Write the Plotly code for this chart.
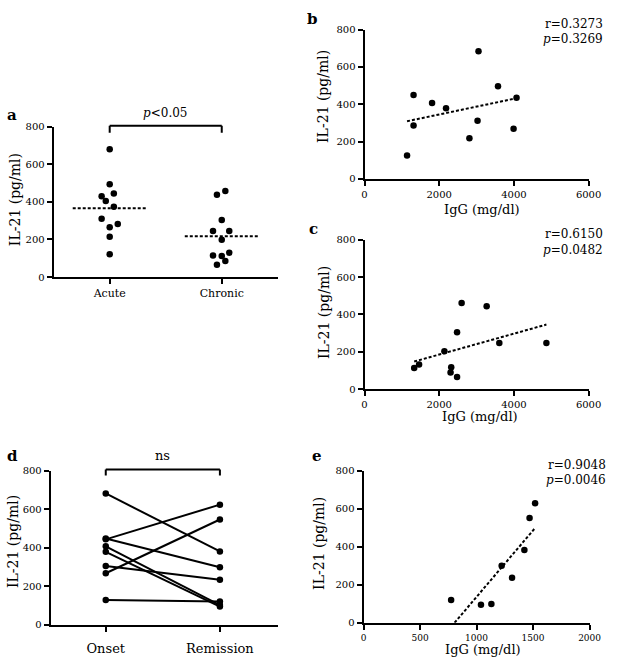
import numpy as np
import plotly.graph_objects as go

W, H = 625, 670
FONT = "DejaVu Serif"

# ---- data ----
groups_a = ["Acute", "Chronic"]
acute_il21 = [681, 494, 445, 430, 405, 375, 311, 283, 265, 215, 122]
chronic_il21 = [458, 438, 304, 245, 245, 199, 129, 115, 112, 86, 65]

igg_acute = [1139, 1313, 1313, 1809, 2183, 2809, 3026, 3052, 3574, 3991, 4070]
il21_acute_b = [125, 286, 449, 407, 379, 218, 312, 684, 496, 268, 435]

igg_chronic = [1330, 1461, 2139, 2304, 2322, 2478, 2478, 2600, 3270, 3609, 4870]
il21_chronic_c = [113, 132, 202, 88, 116, 65, 304, 461, 443, 246, 246]

groups_d = ["Onset", "Remission"]
onset_il21 = [681, 443, 447, 267, 407, 378, 305, 128]
remission_il21 = [380, 623, 298, 546, 102, 94, 233, 121]

igg_remission = [775, 1039, 1131, 1222, 1314, 1423, 1469, 1518]
il21_remission_e = [120, 95, 98, 299, 236, 382, 551, 628]

stats_b = ["r=0.3273", "<i>p</i>=0.3269"]
stats_c = ["r=0.6150", "<i>p</i>=0.0482"]
stats_e = ["r=0.9048", "<i>p</i>=0.0046"]
y_ticks = [0, 200, 400, 600, 800]

# beeswarm horizontal offsets (layout only)
acute_jit = [0, 0, 0.037, -0.072, -0.035, 0.037, -0.072, 0.072, 0, 0, 0]
chronic_jit = [0.032, -0.043, 0, -0.078, 0.067, 0, 0.067, -0.078, 0, 0.032, -0.043]


def px(x):
    return x / W


def py(y):
    return 1 - y / H


fig = go.Figure()
MK = dict(color="black", size=6.5)
DOT = dict(color="black", width=2, dash="3px,2px")

# ---- panel a ----
xa = [0 + j for j in acute_jit] + [1 + j for j in chronic_jit]
ya = acute_il21 + chronic_il21
fig.add_trace(go.Scatter(x=xa, y=ya, mode="markers", marker=MK, xaxis="x", yaxis="y",
                         cliponaxis=False, showlegend=False))
for i, vals in enumerate([acute_il21, chronic_il21]):
    m = float(np.mean(vals))
    fig.add_trace(go.Scatter(x=[i - 0.33, i + 0.33], y=[m, m], mode="lines", line=DOT,
                             xaxis="x", yaxis="y", showlegend=False))


def reg_line(xs, ys, ax, ay, clip0=False):
    a, b = np.polyfit(xs, ys, 1)
    x0, x1 = min(xs), max(xs)
    if clip0 and a * x0 + b < 0:
        x0 = -b / a
    fig.add_trace(go.Scatter(x=[x0, x1], y=[a * x0 + b, a * x1 + b], mode="lines", line=DOT,
                             xaxis=ax, yaxis=ay, showlegend=False))


# ---- panel b ----
fig.add_trace(go.Scatter(x=igg_acute, y=il21_acute_b, mode="markers", marker=MK,
                         xaxis="x2", yaxis="y2", cliponaxis=False, showlegend=False))
reg_line(igg_acute, il21_acute_b, "x2", "y2")

# ---- panel c ----
fig.add_trace(go.Scatter(x=igg_chronic, y=il21_chronic_c, mode="markers", marker=MK,
                         xaxis="x3", yaxis="y3", cliponaxis=False, showlegend=False))
reg_line(igg_chronic, il21_chronic_c, "x3", "y3")

# ---- panel d ----
xd, yd = [], []
for o, r in zip(onset_il21, remission_il21):
    xd += [0, 1, None]
    yd += [o, r, None]
fig.add_trace(go.Scatter(x=xd, y=yd, mode="lines+markers", marker=MK,
                         line=dict(color="black", width=2), xaxis="x4", yaxis="y4",
                         cliponaxis=False, showlegend=False))

# ---- panel e ----
fig.add_trace(go.Scatter(x=igg_remission, y=il21_remission_e, mode="markers", marker=MK,
                         xaxis="x5", yaxis="y5", cliponaxis=False, showlegend=False))
reg_line(igg_remission, il21_remission_e, "x5", "y5", clip0=True)

# ---- axes ----
base = dict(showline=True, linecolor="black", linewidth=2, ticks="outside", ticklen=5,
            tickwidth=2, tickcolor="black", showgrid=False, zeroline=False,
            tickfont=dict(family=FONT, size=10, color="black"))


def yax(dom, anchor):
    return dict(base, domain=[py(dom[1]), py(dom[0])], range=[0, 800], tickvals=y_ticks,
                anchor=anchor)


lay = dict(
    width=W, height=H, margin=dict(l=0, r=0, t=0, b=0),
    paper_bgcolor="white", plot_bgcolor="white", showlegend=False,
    font=dict(family=FONT, color="black"),
    xaxis=dict(base, domain=[px(52), px(282)], range=[-0.5, 1.5], tickvals=[0, 1],
               ticktext=groups_a, anchor="y", tickfont=dict(family=FONT, size=11, color="black")),
    yaxis=yax([123, 276], "x"),
    xaxis2=dict(base, domain=[px(371), px(601)], range=[0, 6000],
                tickvals=[0, 2000, 4000, 6000], anchor="y2"),
    yaxis2=yax([24, 176], "x2"),
    xaxis3=dict(base, domain=[px(371), px(601)], range=[0, 6000],
                tickvals=[0, 2000, 4000, 6000], anchor="y3"),
    yaxis3=yax([238, 390], "x3"),
    xaxis4=dict(base, domain=[px(49), px(282)], range=[-0.482, 1.507], tickvals=[0, 1],
                ticktext=groups_d, anchor="y4", ticklabelstandoff=6,
                tickfont=dict(family=FONT, size=13, color="black")),
    yaxis4=yax([473, 630], "x4"),
    xaxis5=dict(base, domain=[px(370), px(602)], range=[0, 2000],
                tickvals=[0, 500, 1000, 1500, 2000], anchor="y5",
                tickfont=dict(family=FONT, size=9, color="black")),
    yaxis5=yax([473, 628], "x5"),
)
fig.update_layout(**lay)

ann = []


def text(t, x, y, size, xanchor="center", angle=0):
    ann.append(dict(text=t, x=px(x), y=py(y), xref="paper", yref="paper", showarrow=False,
                    xanchor=xanchor, yanchor="middle", textangle=angle,
                    font=dict(family=FONT, size=size, color="black")))


# panel letters
for lab, x, y in [("a", 9, 111), ("b", 318, 13), ("c", 319, 227), ("d", 10, 458), ("e", 322, 458)]:
    text("<b>%s</b>" % lab, x, y, 15)

# y titles
for x, y in [(13, 197), (329, 92), (330, 312), (11, 545), (325, 547)]:
    text("IL-21 (pg/ml)", x, y, 14, angle=-90)
# x titles
for x, y in [(492, 207), (490, 418), (493, 655)]:
    text("IgG (mg/dl)", x, y, 13)

# stats
for st, x, y0 in [(stats_b, 618, 18), (stats_c, 618, 232), (stats_e, 621, 467)]:
    text(st[0], x, y0, 12, xanchor="right")
    text(st[1], x, y0 + 16, 12, xanchor="right")

text("<i>p</i>&lt;0.05", 166, 109, 12)
text("ns", 164, 458, 13)
fig.update_layout(annotations=ann)

# brackets
shapes = []
for xr, ytop, ybot in [("x", 122, 129), ("x4", 472, 478)]:
    for xv in (0, 1):
        shapes.append(dict(type="line", xref=xr, yref="paper", x0=xv, x1=xv, y0=py(ytop), y1=py(ybot),
                           line=dict(color="black", width=2)))
    shapes.append(dict(type="line", xref=xr, yref="paper", x0=0, x1=1, y0=py(ytop), y1=py(ytop),
                       line=dict(color="black", width=2)))
fig.update_layout(shapes=shapes)

fig.write_html("out.html",
               config={"displayModeBar": False, "staticPlot": True},
               post_script="document.body.style.margin='0';document.body.style.overflow='hidden';")
